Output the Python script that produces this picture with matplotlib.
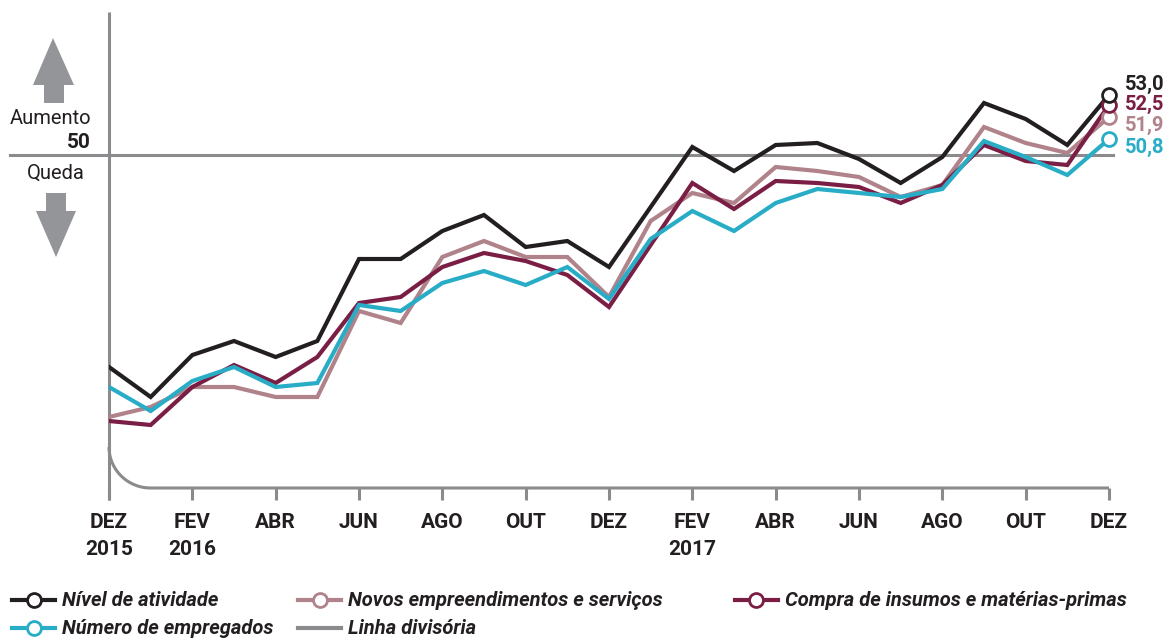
import matplotlib.pyplot as plt
import numpy as np
from matplotlib.lines import Line2D
from matplotlib.patches import Polygon

plt.rcParams['font.family'] = ['Roboto', 'DejaVu Sans']

W, H = 1176, 639

# monthly values, DEZ 2015 .. DEZ 2017
nivel = [39.4, 37.9, 40.0, 40.7, 39.9, 40.7, 44.8, 44.8, 46.2, 47.0, 45.4, 45.7, 44.4,
         47.4, 50.4, 49.2, 50.5, 50.6, 49.8, 48.6, 49.9, 52.6, 51.8, 50.5, 53.0]
novos = [36.9, 37.4, 38.4, 38.4, 37.9, 37.9, 42.2, 41.6, 44.9, 45.7, 44.9, 44.9, 42.9,
         46.7, 48.1, 47.6, 49.4, 49.2, 48.9, 47.9, 48.5, 51.4, 50.6, 50.1, 51.9]
compra = [36.7, 36.5, 38.4, 39.5, 38.6, 39.9, 42.6, 42.9, 44.4, 45.1, 44.7, 44.0, 42.4,
          45.5, 48.6, 47.3, 48.7, 48.6, 48.4, 47.6, 48.5, 50.5, 49.7, 49.5, 52.5]
empregados = [38.4, 37.2, 38.7, 39.4, 38.4, 38.6, 42.5, 42.2, 43.6, 44.2, 43.5, 44.4, 42.8,
              45.8, 47.2, 46.2, 47.6, 48.3, 48.1, 47.9, 48.3, 50.7, 49.9, 49.0, 50.8]

tick_labels = ['DEZ\n2015', 'FEV\n2016', 'ABR', 'JUN', 'AGO', 'OUT', 'DEZ',
               'FEV\n2017', 'ABR', 'JUN', 'AGO', 'OUT', 'DEZ']
end_labels = ['53,0', '52,5', '51,9', '50,8']

black = '#231f20'
pink = '#b0838a'
maroon = '#7b1e45'
cyan = '#29adc7'
grey = '#8b8b8d'
arrow_grey = '#939598'

x = np.arange(len(nivel))

fig = plt.figure(figsize=(W / 100, H / 100), dpi=100)
ax = fig.add_axes([109 / W, 1 - 488 / H, 1000 / W, 476 / H])
ax.set_xlim(0, 24)
ax.set_ylim(33.35, 57.15)
for s in ax.spines.values():
    s.set_visible(False)
ax.set_yticks([])

# axes frame: vertical line, rounded corner, bottom line
ax.plot([0, 0], [32.75, 57.15], color=grey, lw=2.2, clip_on=False, solid_capstyle='butt')
t = np.linspace(0, np.pi / 2, 40)
cx = np.concatenate([1 - np.cos(t), [24]])
cy = np.concatenate([35.4 - 2.05 * np.sin(t), [33.35]])
ax.plot(cx, cy, color=grey, lw=2.2, clip_on=False, solid_capstyle='butt')
ax.axhline(50, xmin=-0.099, xmax=1.0036, color=grey, lw=2.2, clip_on=False)

ax.set_xticks(np.arange(0, 25, 2))
ax.set_xticklabels(tick_labels, fontsize=15, fontweight='bold', color=black, linespacing=1.55)
ax.tick_params(axis='x', direction='out', length=8.6, width=2.2, color=grey, pad=9.5)

series = [(novos, pink), (compra, maroon), (empregados, cyan), (nivel, black)]
for i, (vals, c) in enumerate(series):
    ax.plot(x, vals, color=c, lw=3, solid_joinstyle='miter', zorder=3 + i)

# end markers and labels
ends = [(nivel, black, end_labels[0], 11), (compra, maroon, end_labels[1], 0.5),
        (novos, pink, end_labels[2], -8), (empregados, cyan, end_labels[3], -8)]
for k, (vals, c, lab, dy) in enumerate(ends):
    ax.plot(24, vals[-1], 'o', ms=10, mfc='white', mec=c, mew=2, clip_on=False, zorder=10 - k)
    ax.annotate(lab, (24, vals[-1]), xytext=(16, dy), textcoords='offset pixels',
                ha='left', va='center', fontsize=14.5, fontweight='bold', color=c,
                annotation_clip=False)


def fx(px):
    return px / W


def fy(py):
    return 1 - py / H


# arrows
up = [(53, 38), (74, 85), (64, 85), (64, 103), (44, 103), (44, 85), (33, 85)]
down = [(46, 193), (66, 193), (66, 211), (76, 211), (56, 257), (36, 211), (46, 211)]
for pts in (up, down):
    fig.add_artist(Polygon([(fx(a), fy(b)) for a, b in pts], closed=True,
                           transform=fig.transFigure, color=arrow_grey, lw=0))

fig.text(fx(91), fy(119), 'Aumento', ha='right', va='center', fontsize=14.5, color=black)
fig.text(fx(91), fy(142), '50', ha='right', va='center', fontsize=15, fontweight='bold', color=black)
fig.text(fx(55.5), fy(173), 'Queda', ha='center', va='center', fontsize=14.5, color=black)

# legend
legend_items = [
    (12, 600, black, True, 'Nível de atividade'),
    (298, 600, pink, True, 'Novos empreendimentos e serviços'),
    (735, 600, maroon, True, 'Compra de insumos e matérias-primas'),
    (12, 628, cyan, True, 'Número de empregados'),
    (298, 628, grey, False, 'Linha divisória'),
]
for x0, y0, c, marker, lab in legend_items:
    fig.add_artist(Line2D([fx(x0), fx(x0 + 43)], [fy(y0), fy(y0)], color=c, lw=3,
                          transform=fig.transFigure))
    if marker:
        fig.add_artist(Line2D([fx(x0 + 21.5)], [fy(y0)], marker='o', ms=10, mfc='white',
                              mec=c, mew=2, transform=fig.transFigure))
    fig.text(fx(x0 + 50), fy(y0), lab, ha='left', va='center', fontsize=14.5,
             fontstyle='italic', fontweight='bold', color=black)

fig.savefig('out.png', dpi=100)
